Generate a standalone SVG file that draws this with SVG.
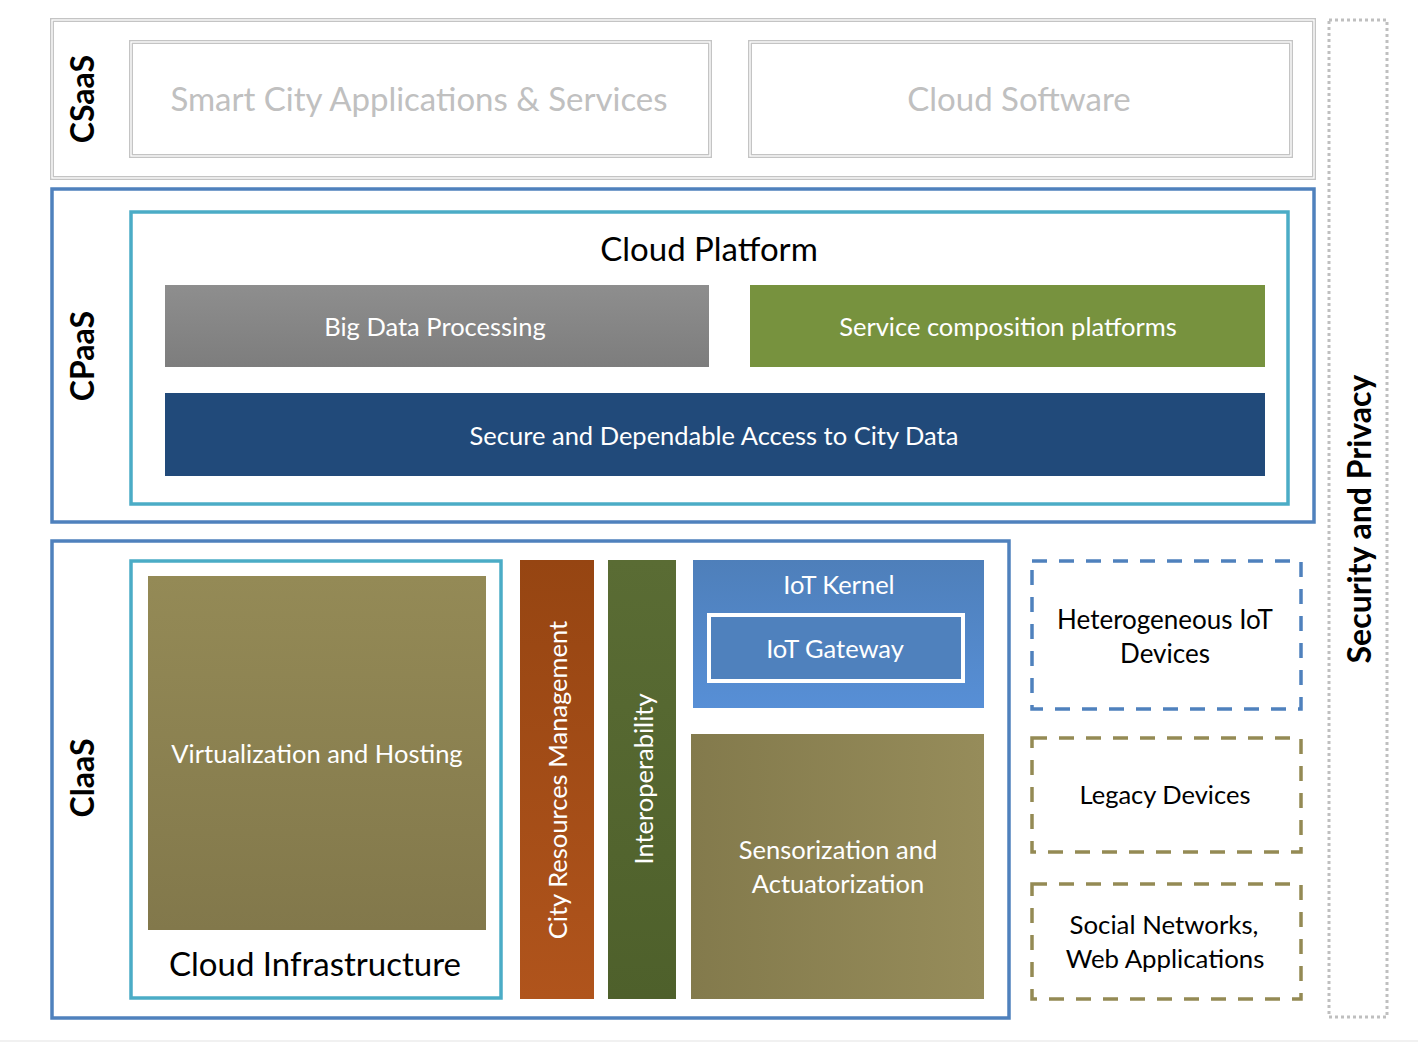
<svg xmlns="http://www.w3.org/2000/svg" width="1418" height="1042" viewBox="0 0 1418 1042">
<style>
.t{font-family:Lato,"Liberation Sans",sans-serif;text-anchor:middle;dominant-baseline:central}
.w{fill:#ffffff;font-size:25.5px}
.k{fill:#000000}
.lay{font-weight:bold;font-size:32px;fill:#000}
.dbl{fill:#fff;stroke:#c4c4c4;stroke-width:4}
.dblin{fill:none;stroke:#ffffff;stroke-width:1.3}
.blue{fill:#fff;stroke:#4f81bd;stroke-width:3.5}
.aqua{fill:#fff;stroke:#4bacc6;stroke-width:3.5}
.dash{fill:#fff;stroke-width:3.5;stroke-dasharray:15 12}
</style>
<defs>
<linearGradient id="gGray" x1="0" y1="0" x2="0" y2="1"><stop offset="0" stop-color="#8e8e8e"/><stop offset="1" stop-color="#7d7d7d"/></linearGradient>
<linearGradient id="gOlive" x1="0" y1="0" x2="0" y2="1"><stop offset="0" stop-color="#948a56"/><stop offset="1" stop-color="#82784b"/></linearGradient>
<linearGradient id="gOliveH" x1="0" y1="0" x2="1" y2="0"><stop offset="0" stop-color="#837a4c"/><stop offset="1" stop-color="#968c5a"/></linearGradient>
<linearGradient id="gBrown" x1="0" y1="0" x2="0" y2="1"><stop offset="0" stop-color="#964512"/><stop offset="1" stop-color="#b0541c"/></linearGradient>
<linearGradient id="gGreen" x1="0" y1="0" x2="0" y2="1"><stop offset="0" stop-color="#5a6c34"/><stop offset="1" stop-color="#4e602b"/></linearGradient>
<linearGradient id="gBlue" x1="0" y1="0" x2="0" y2="1"><stop offset="0" stop-color="#4e7fba"/><stop offset="1" stop-color="#578fd6"/></linearGradient>
</defs>
<rect x="0" y="0" width="1418" height="1042" fill="#ffffff"/>
<line x1="0" y1="1041" x2="1418" y2="1041" stroke="#ececec" stroke-width="1.5"/>

<g id="csaas">
<rect class="dbl" x="52" y="20" width="1262" height="158"/>
<rect class="dblin" x="52" y="20" width="1262" height="158"/>
<text class="t lay" transform="translate(81,99) rotate(-90)">CSaaS</text>
</g>
<g id="smart-city-apps">
<rect class="dbl" x="131" y="42" width="579" height="114"/>
<rect class="dblin" x="131" y="42" width="579" height="114"/>
<text class="t" x="419" y="98" font-size="33" fill="#c0c0c0">Smart City Applications &amp; Services</text>
</g>
<g id="cloud-software">
<rect class="dbl" x="750" y="42" width="541" height="114"/>
<rect class="dblin" x="750" y="42" width="541" height="114"/>
<text class="t" x="1019" y="98" font-size="33" fill="#c0c0c0">Cloud Software</text>
</g>

<g id="cpaas">
<rect class="blue" x="52" y="189" width="1262" height="333"/>
<text class="t lay" transform="translate(81,356) rotate(-90)">CPaaS</text>
</g>
<g id="cloud-platform">
<rect class="aqua" x="131" y="212" width="1157" height="292"/>
<text class="t k" x="709" y="248" font-size="33">Cloud Platform</text>
</g>
<g id="big-data">
<rect x="165" y="285" width="544" height="82" fill="url(#gGray)"/>
<text class="t w" x="435" y="326">Big Data Processing</text>
</g>
<g id="service-composition">
<rect x="750" y="285" width="515" height="82" fill="#77923e"/>
<text class="t w" x="1008" y="326" font-size="26.5">Service composition platforms</text>
</g>
<g id="secure-access">
<rect x="165" y="393" width="1100" height="83" fill="#214a7a"/>
<text class="t w" x="714" y="435" font-size="26">Secure and Dependable Access to City Data</text>
</g>

<g id="ciaas">
<rect class="blue" x="52" y="541" width="957" height="477"/>
<text class="t lay" transform="translate(81,778) rotate(-90)">ClaaS</text>
</g>
<g id="cloud-infrastructure">
<rect class="aqua" x="131" y="561" width="370" height="437"/>
<text class="t k" x="315" y="963" font-size="33">Cloud Infrastructure</text>
</g>
<g id="virtualization">
<rect x="148" y="576" width="338" height="354" fill="url(#gOlive)"/>
<text class="t w" x="317" y="753" font-size="26.2">Virtualization and Hosting</text>
</g>
<g id="city-resources">
<rect x="520" y="560" width="74" height="439" fill="url(#gBrown)"/>
<text class="t w" transform="translate(557,780) rotate(-90)" font-size="26.3">City Resources Management</text>
</g>
<g id="interoperability">
<rect x="608" y="560" width="68" height="439" fill="url(#gGreen)"/>
<text class="t w" transform="translate(643,779) rotate(-90)" font-size="26.6">Interoperability</text>
</g>
<g id="iot-kernel">
<rect x="693" y="560" width="291" height="148" fill="url(#gBlue)"/>
<text class="t w" x="839" y="584" font-size="26">IoT Kernel</text>
</g>
<g id="iot-gateway">
<rect x="709" y="615" width="254" height="66" fill="#4f81bd" stroke="#ffffff" stroke-width="4"/>
<text class="t w" x="835" y="648" font-size="26">IoT Gateway</text>
</g>
<g id="sensorization">
<rect x="691" y="734" width="293" height="265" fill="url(#gOliveH)"/>
<text class="t w" x="838" y="849" font-size="26.3">Sensorization and</text>
<text class="t w" x="838" y="883" font-size="26.3">Actuatorization</text>
</g>

<g id="heterogeneous-iot">
<rect class="dash" x="1032" y="561" width="269" height="148" stroke="#4f81bd"/>
<text class="t k" x="1165" y="619" font-size="26">Heterogeneous IoT</text>
<text class="t k" x="1165" y="653" font-size="26">Devices</text>
</g>
<g id="legacy-devices">
<rect class="dash" x="1032" y="738" width="269" height="114" stroke="#948a54"/>
<text class="t k" x="1165" y="794" font-size="25.5">Legacy Devices</text>
</g>
<g id="social-networks">
<rect class="dash" x="1032" y="884" width="269" height="115" stroke="#948a54"/>
<text class="t k" x="1164" y="924" font-size="25.8">Social Networks,</text>
<text class="t k" x="1165" y="958" font-size="25.8">Web Applications</text>
</g>

<g id="security-privacy">
<rect x="1329" y="20" width="58" height="997" fill="none" stroke="#bfbfbf" stroke-width="3" stroke-dasharray="3 3"/>
<text class="t lay" transform="translate(1358,519) rotate(-90)" font-size="30.5">Security and Privacy</text>
</g>

<g id="connectors"></g>
</svg>
